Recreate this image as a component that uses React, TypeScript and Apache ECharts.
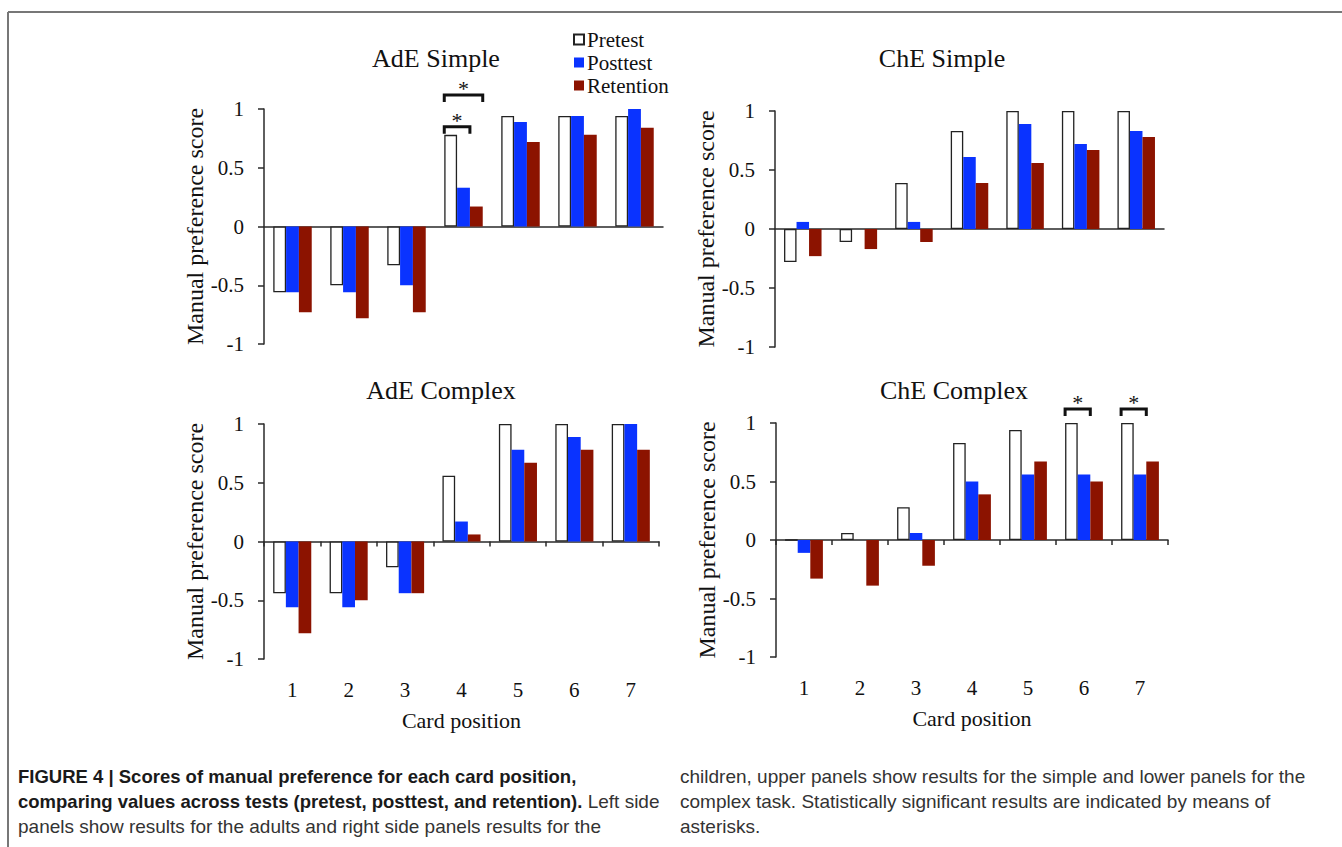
import React, { useEffect, useRef } from "react";
import * as echarts from "echarts";

const categories = ["1", "2", "3", "4", "5", "6", "7"];
const seriesNames = ["Pretest", "Posttest", "Retention"];
const yTicks = [-1, -0.5, 0, 0.5, 1];

const panelTitles = ["AdE Simple", "ChE Simple", "AdE Complex", "ChE Complex"];

const adeSimplePre = [-0.56, -0.5, -0.33, 0.78, 0.94, 0.94, 0.94];
const adeSimplePost = [-0.56, -0.56, -0.5, 0.33, 0.89, 0.94, 1.0];
const adeSimpleRet = [-0.73, -0.78, -0.73, 0.17, 0.72, 0.78, 0.84];

const cheSimplePre = [-0.28, -0.11, 0.39, 0.83, 1.0, 1.0, 1.0];
const cheSimplePost = [0.06, 0, 0.06, 0.61, 0.89, 0.72, 0.83];
const cheSimpleRet = [-0.23, -0.17, -0.11, 0.39, 0.56, 0.67, 0.78];

const adeComplexPre = [-0.44, -0.44, -0.22, 0.56, 1.0, 1.0, 1.0];
const adeComplexPost = [-0.56, -0.56, -0.44, 0.17, 0.78, 0.89, 1.0];
const adeComplexRet = [-0.78, -0.5, -0.44, 0.06, 0.67, 0.78, 0.78];

const cheComplexPre = [0, 0.06, 0.28, 0.83, 0.94, 1.0, 1.0];
const cheComplexPost = [-0.11, 0, 0.06, 0.5, 0.56, 0.56, 0.56];
const cheComplexRet = [-0.33, -0.39, -0.22, 0.39, 0.67, 0.5, 0.67];

// significance brackets: [category index, bracket level, first series, last series, asterisk level]
const adeSimpleSig = [
  [3, 0.85, 0, 1, 0.94],
  [3, 1.12, 0, 2, 1.21],
];
const cheComplexSig = [
  [5, 1.12, 0, 1, 1.21],
  [6, 1.12, 0, 1, 1.21],
];

const captionLeft = [
  "FIGURE 4 | Scores of manual preference for each card position,",
  "comparing values across tests (pretest, posttest, and retention).",
  " Left side",
  "panels show results for the adults and right side panels results for the",
];
const captionRight = [
  "children, upper panels show results for the simple and lower panels for the",
  "complex task. Statistically significant results are indicated by means of",
  "asterisks.",
];

const SERIF = "'Liberation Serif', 'Times New Roman', serif";
const SANS = "'Liberation Sans', Arial, sans-serif";
const BLUE = "#0a33ff";
const RED = "#8c1300";
const AXIS = "#2a2a2a";

const panelData = [
  [adeSimplePre, adeSimplePost, adeSimpleRet],
  [cheSimplePre, cheSimplePost, cheSimpleRet],
  [adeComplexPre, adeComplexPost, adeComplexRet],
  [cheComplexPre, cheComplexPost, cheComplexRet],
];

const grids = [
  { left: 264, top: 109, width: 399, height: 235 },
  { left: 775, top: 111, width: 389, height: 236 },
  { left: 264, top: 424, width: 395, height: 235 },
  { left: 776, top: 423, width: 392, height: 234 },
];

const titlePos = [
  { x: 431, y: 60 },
  { x: 937, y: 60 },
  { x: 436, y: 392 },
  { x: 949, y: 392 },
];

const BAR_FRAC = 0.225;

export default function App() {
  const ref = useRef<HTMLDivElement>(null);
  useEffect(() => {
    if (!ref.current) return;
    const chart = echarts.init(ref.current, null, { renderer: "svg" });

    const xAxes: any[] = [];
    const zeroAxisIndex: number[] = [];
    grids.forEach((g, i) => {
      const bottom = i >= 2;
      zeroAxisIndex.push(xAxes.length);
      xAxes.push({
        type: "category",
        gridIndex: i,
        data: categories,
        axisLine: { show: true, onZero: true, lineStyle: { color: AXIS, width: 1.5 } },
        axisTick: { show: bottom, length: 5, lineStyle: { color: AXIS, width: 1.5 } },
        axisLabel: { show: false },
        splitLine: { show: false },
      });
      if (bottom) {
        xAxes.push({
          type: "category",
          gridIndex: i,
          data: categories,
          position: "bottom",
          axisLine: { show: false, onZero: false },
          axisTick: { show: false },
          axisLabel: { show: true, fontSize: 21, fontFamily: SERIF, color: "#111", margin: 20 },
          name: "Card position",
          nameLocation: "middle",
          nameGap: 50,
          nameTextStyle: { fontSize: 22, fontFamily: SERIF, color: "#111" },
        });
      }
    });

    const yAxes = grids.map((g, i) => ({
      type: "value",
      gridIndex: i,
      min: yTicks[0],
      max: yTicks[yTicks.length - 1],
      interval: 0.5,
      axisLine: { show: true, lineStyle: { color: AXIS, width: 1.5 } },
      axisTick: { show: true, length: 6, lineStyle: { color: AXIS, width: 1.5 } },
      axisLabel: { fontSize: 21, fontFamily: SERIF, color: "#111", margin: 20 },
      splitLine: { show: false },
      name: "Manual preference score",
      nameLocation: "middle",
      nameGap: 54,
      nameTextStyle: { fontSize: 24, fontFamily: SERIF, color: "#111" },
    }));

    const styles = [
      { color: "#ffffff", borderColor: "#222", borderWidth: 1.3 },
      { color: BLUE },
      { color: RED },
    ];

    const series: any[] = [];
    panelData.forEach((arrs, i) => {
      arrs.forEach((vals, k) => {
        series.push({
          type: "bar",
          name: seriesNames[k],
          xAxisIndex: zeroAxisIndex[i],
          yAxisIndex: i,
          data: vals,
          barWidth: BAR_FRAC * 100 + "%",
          barGap: "0%",
          itemStyle: styles[k],
          emphasis: { disabled: true },
        });
      });
    });

    const renderBracket = (params: any, api: any) => {
      const cat = api.value(0);
      const level = api.value(1);
      const from = api.value(2);
      const to = api.value(3);
      const star = api.value(4);
      const band = api.size([1, 0])[0];
      const bw = band * BAR_FRAC;
      const c = api.coord([cat, level]);
      const legEnd = api.coord([cat, level - 0.06])[1];
      const start = c[0] - 1.5 * bw;
      const x1 = start + from * bw;
      const x2 = start + (to + 1) * bw;
      const s = api.coord([cat, star]);
      return {
        type: "group",
        children: [
          {
            type: "polyline",
            shape: { points: [[x1, legEnd], [x1, c[1]], [x2, c[1]], [x2, legEnd]] },
            style: { stroke: "#111", lineWidth: 3, fill: null },
          },
          {
            type: "text",
            x: (x1 + x2) / 2,
            y: s[1] + 4,
            style: {
              text: "*",
              fontSize: 22,
              fontFamily: SERIF,
              fill: "#111",
              align: "center",
              verticalAlign: "middle",
            },
          },
        ],
      };
    };

    [
      [0, adeSimpleSig],
      [3, cheComplexSig],
    ].forEach(([pi, sig]: any) => {
      series.push({
        type: "custom",
        xAxisIndex: zeroAxisIndex[pi],
        yAxisIndex: pi,
        data: sig,
        encode: { x: 0, y: 1 },
        clip: false,
        z: 10,
        renderItem: renderBracket,
        silent: true,
      });
    });

    const title = panelTitles.map((t, i) => ({
      text: t,
      left: titlePos[i].x,
      top: titlePos[i].y - 20,
      textAlign: "center",
      textStyle: { fontSize: 26, fontFamily: SERIF, fontWeight: "normal", color: "#111" },
    }));

    const option: any = {
      animation: false,
      backgroundColor: "#ffffff",
      title,
      legend: {
        data: seriesNames,
        orient: "vertical",
        left: 568,
        top: 24,
        itemWidth: 10,
        itemHeight: 10,
        itemGap: 2,
        icon: "rect",
        selectedMode: false,
        textStyle: { fontSize: 21, fontFamily: SERIF, color: "#111", padding: [0, 0, 0, -2] },
      },
      grid: grids.map((g) => ({ ...g, containLabel: false })),
      xAxis: xAxes,
      yAxis: yAxes,
      series,
      graphic: [
        {
          type: "line",
          shape: { x1: 8, y1: 12, x2: 1342, y2: 12 },
          style: { stroke: "#777", lineWidth: 2 },
        },
        {
          type: "line",
          shape: { x1: 8, y1: 12, x2: 8, y2: 847 },
          style: { stroke: "#777", lineWidth: 2 },
        },
        {
          type: "text",
          left: 18,
          top: 767,
          style: {
            text:
              "{b|" + captionLeft[0] + "}\n{b|" + captionLeft[1] + "}{n|" + captionLeft[2] + "}\n{n|" + captionLeft[3] + "}",
            rich: {
              b: { fontSize: 18.5, fontFamily: SANS, fontWeight: "bold", fill: "#1a1a1a", lineHeight: 25 },
              n: { fontSize: 19, fontFamily: SANS, fill: "#333", lineHeight: 25 },
            },
          },
        },
        {
          type: "text",
          left: 680,
          top: 767,
          style: {
            text: captionRight.map((l) => "{n|" + l + "}").join("\n"),
            rich: {
              n: { fontSize: 19, fontFamily: SANS, fill: "#333", lineHeight: 25 },
            },
          },
        },
      ],
    };

    chart.setOption(option);
    return () => chart.dispose();
  }, []);

  return (
    <div
      ref={ref}
      style={{ position: "fixed", left: 0, top: 0, width: 1342, height: 847, background: "#fff" }}
    />
  );
}
